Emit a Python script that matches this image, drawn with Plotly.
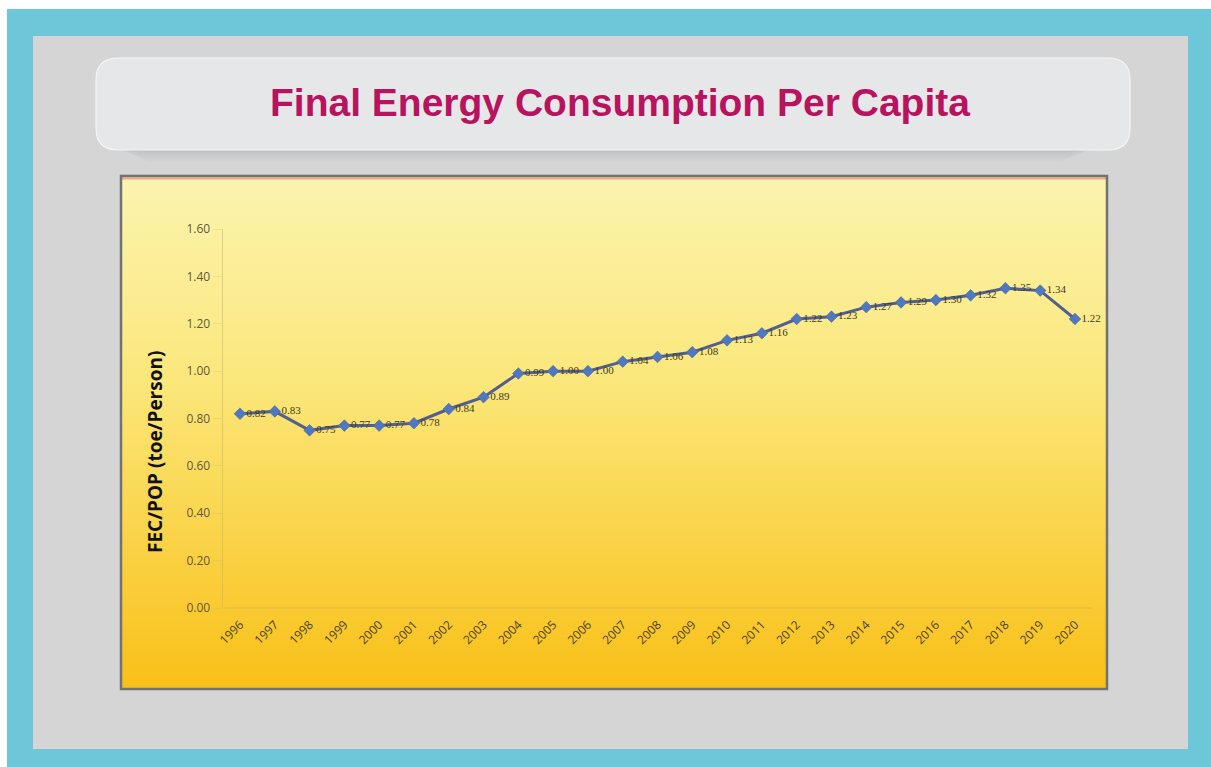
import plotly.graph_objects as go

W, H = 1211, 767

years = [str(y) for y in range(1996, 2021)]
values = [0.82, 0.83, 0.75, 0.77, 0.77, 0.78, 0.84, 0.89, 0.99, 1.00, 1.00, 1.04, 1.06,
          1.08, 1.13, 1.16, 1.22, 1.23, 1.27, 1.29, 1.30, 1.32, 1.35, 1.34, 1.22]
labels = ["0.82", "0.83", "0.75", "0.77", "0.77", "0.78", "0.84", "0.89", "0.99", "1.00",
          "1.00", "1.04", "1.06", "1.08", "1.13", "1.16", "1.22", "1.23", "1.27", "1.29",
          "1.30", "1.32", "1.35", "1.34", "1.22"]
y_ticks = [0.0, 0.2, 0.4, 0.6, 0.8, 1.0, 1.2, 1.4, 1.6]
y_ticktext = ["0.00", "0.20", "0.40", "0.60", "0.80", "1.00", "1.20", "1.40", "1.60"]
title_text = "Final Energy Consumption Per Capita"
ytitle_text = "FEC/POP (toe/Person)"


def px(x):
    return x / W


def py(y):
    return 1 - y / H


def rect(x0, y0, x1, y1, fill, line=None, lw=0):
    return dict(type="rect", xref="paper", yref="paper", layer="below",
                x0=px(x0), x1=px(x1), y0=py(y1), y1=py(y0),
                fillcolor=fill, line=dict(color=line or fill, width=lw))


def rounded(x0, y0, x1, y1, r, fill, line, lw):
    rx, ry = r / W, r / H
    X0, X1, Y0, Y1 = px(x0), px(x1), py(y1), py(y0)
    path = (f"M {X0+rx},{Y0} L {X1-rx},{Y0} Q {X1},{Y0} {X1},{Y0+ry} "
            f"L {X1},{Y1-ry} Q {X1},{Y1} {X1-rx},{Y1} L {X0+rx},{Y1} "
            f"Q {X0},{Y1} {X0},{Y1-ry} L {X0},{Y0+ry} Q {X0},{Y0} {X0+rx},{Y0} Z")
    return dict(type="path", xref="paper", yref="paper", layer="below", path=path,
                fillcolor=fill, line=dict(color=line, width=lw))


def lerp(c1, c2, t):
    return tuple(int(round(a + (b - a) * t)) for a, b in zip(c1, c2))


shapes = []
# teal frame and gray panel
shapes.append(rect(7, 9, W, H, "#6EC7D9"))
shapes.append(rect(33, 36, 1188, 749, "#D5D5D5"))
# soft shadow under title box
for i, a in enumerate([0.025, 0.02, 0.015, 0.012, 0.01]):
    shapes.append(rounded(110 + i * 6, 62 + i * 2, 1100 - i * 6, 152 + i * 2.5, 22,
                          f"rgba(0,0,0,{a})", "rgba(0,0,0,0)", 0))
# title box
shapes.append(rounded(96, 58, 1130, 150, 22, "#E6E7E9", "#F6F6F6", 1.2))

# chart frame gradient
top_c = (251, 244, 175)
mid_c = (251, 231, 122)
bot_c = (249, 192, 24)
fy0, fy1 = 177, 689
n = 128
for i in range(n):
    t = i / (n - 1)
    if t < 0.4:
        c = lerp(top_c, mid_c, t / 0.4)
    else:
        c = lerp(mid_c, bot_c, (t - 0.4) / 0.6)
    ya = fy0 + (fy1 - fy0) * i / n
    yb = fy0 + (fy1 - fy0) * (i + 1) / n + 0.6
    shapes.append(rect(122, ya, 1106, yb, "rgb(%d,%d,%d)" % c))
# thin salmon line at top of frame
shapes.append(dict(type="line", xref="paper", yref="paper", layer="below",
                   x0=px(122), x1=px(1106), y0=py(178.5), y1=py(178.5),
                   line=dict(color="#F4A48C", width=2)))
# frame border
shapes.append(dict(type="rect", xref="paper", yref="paper", layer="below",
                   x0=px(121), x1=px(1107), y0=py(689), y1=py(176),
                   fillcolor="rgba(0,0,0,0)", line=dict(color="#727272", width=2.5)))
# x axis baseline
shapes.append(dict(type="line", xref="paper", yref="paper", layer="below",
                   x0=px(225), x1=px(1092), y0=py(608), y1=py(608),
                   line=dict(color="rgba(200,170,90,0.5)", width=1)))

fig = go.Figure()
fig.add_trace(go.Scatter(
    x=years, y=values, mode="lines+markers+text",
    text=labels, textposition="middle right",
    textfont=dict(family="Liberation Serif", size=11, color="#3E3A2A"),
    line=dict(color="#53608E", width=3),
    marker=dict(symbol="diamond", size=9, color="#4F78C2", line=dict(color="#4A5C93", width=0.5)),
    cliponaxis=False, showlegend=False, hoverinfo="skip",
))

fig.update_layout(
    template="none",
    width=W, height=H, margin=dict(l=0, r=0, t=0, b=0, pad=0, autoexpand=False),
    paper_bgcolor="white", plot_bgcolor="rgba(0,0,0,0)",
    shapes=shapes,
    xaxis=dict(domain=[px(222.6), px(1092.4)], type="category", range=[-0.5, 24.5],
               showgrid=False, zeroline=False, showline=False, automargin=False,
               tickangle=-45, ticks="outside", ticklen=4, tickcolor="rgba(0,0,0,0)",
               fixedrange=True,
               tickfont=dict(family="Open Sans", size=12, color="#4A4228")),
    yaxis=dict(domain=[py(608), py(229)], range=[0, 1.6],
               tickvals=y_ticks, ticktext=y_ticktext, automargin=False,
               showgrid=False, zeroline=False, fixedrange=True,
               showline=True, linecolor="rgba(200,180,110,0.55)", linewidth=1,
               ticks="outside", ticklen=9, tickcolor="rgba(200,180,110,0.25)",
               tickfont=dict(family="Open Sans", size=12, color="#5E5842")),
    annotations=[
        dict(text=title_text, xref="paper", yref="paper", x=px(620), y=py(102),
             showarrow=False, xanchor="center", yanchor="middle",
             font=dict(family="Liberation Sans", size=39, color="#B8135F", weight="bold")),
        dict(text=ytitle_text, xref="paper", yref="paper", x=px(155), y=py(452),
             showarrow=False, textangle=-90, xanchor="center", yanchor="middle",
             font=dict(family="Open Sans", size=19, color="#111111", weight="bold")),
    ],
)

fig.write_html("out.html", config={"displayModeBar": False},
               post_script="document.body.style.margin='0';document.body.style.overflow='hidden';")
